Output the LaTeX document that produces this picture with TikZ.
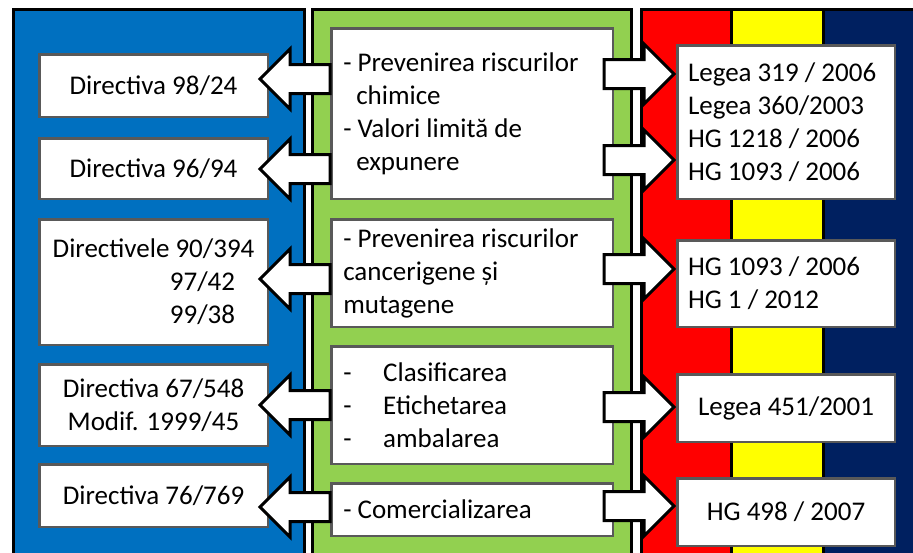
\documentclass[tikz,border=0pt]{standalone}
\usepackage{fontspec}
\setmainfont{Carlito}
\usetikzlibrary{calc}

\definecolor{dirblue}{HTML}{0070C0}
\definecolor{topicgreen}{HTML}{92D050}
\definecolor{flagred}{HTML}{FF0000}
\definecolor{flagyellow}{HTML}{FFFF00}
\definecolor{flagnavy}{HTML}{002060}
\definecolor{boxgrey}{HTML}{595959}

\tikzset{
  box/.style={draw=boxgrey, line width=2.5pt, fill=white, inner sep=0pt},
  dirbox/.style={box, minimum width=228.5pt, align=center},
  topicbox/.style={box, minimum width=281.5pt, text width=257.5pt, align=flush left},
  lawbox/.style={box, minimum width=217.5pt, align=center},
  blockleft/.style={draw=black, fill=white, line width=3pt, line join=miter,
    to path={let \p1=(\tikztostart), \p2=(\tikztotarget) in
      (\x1,{\y1+14.5pt}) -- ({\x2+30pt},{\y1+14.5pt}) -- ({\x2+30pt},{\y1+30pt})
      -- (\x2,\y1) -- ({\x2+30pt},{\y1-30pt}) -- ({\x2+30pt},{\y1-14.5pt})
      -- (\x1,{\y1-14.5pt}) -- cycle}},
  blockright/.style={draw=black, fill=white, line width=3pt, line join=miter,
    to path={let \p1=(\tikztostart), \p2=(\tikztotarget) in
      (\x1,{\y1+14.5pt}) -- ({\x2-30pt},{\y1+14.5pt}) -- ({\x2-30pt},{\y1+30pt})
      -- (\x2,\y1) -- ({\x2-30pt},{\y1-30pt}) -- ({\x2-30pt},{\y1-14.5pt})
      -- (\x1,{\y1-14.5pt}) -- cycle}}
}

\begin{document}
\begin{tikzpicture}[x=1pt,y=-1pt,font=\fontsize{27}{33}\selectfont]
\useasboundingbox (0,0) rectangle (913,552);

% panels
\draw[line width=3pt, fill=dirblue] (13,9) rectangle (304,570);
\draw[line width=3pt, fill=topicgreen] (312,9) rectangle (631.5,570);
\fill[flagred] (641.5,9.5) rectangle (731.5,570);
\fill[flagyellow] (731.5,9.5) rectangle (823.5,570);
\fill[flagnavy] (823.5,9.5) rectangle (920,570);
\draw[line width=3pt] (641.5,9.5) rectangle (920,570);
\draw[line width=3pt] (731.5,9.5) -- (731.5,570) (823.5,9.5) -- (823.5,570);

% directives
\node[dirbox, minimum height=62.5pt] (l1) at (153.5,85.5) {Directiva 98/24};
\node[dirbox, minimum height=60.5pt] (l2) at (153.5,168.5) {Directiva 96/94};
\node[dirbox, minimum height=125.5pt] (l3) at (153.5,282)
  {Directivele 90/394\\\hspace*{98pt}97/42\\\hspace*{98pt}99/38};
\node[dirbox, minimum height=81.5pt] (l4) at (153.5,405) {Directiva 67/548\\Modif. 1999/45};
\node[dirbox, minimum height=62.5pt] (l5) at (153.5,495.5) {Directiva 76/769};

% topics
\node[topicbox, minimum height=170.5pt] (m1) at (472,113.5)
  {- Prevenirea riscurilor\\\hspace*{13pt}chimice\\- Valori limită de\\\hspace*{13pt}expunere};
\node[topicbox, minimum height=107.5pt] (m2) at (472,273)
  {- Prevenirea riscurilor\\cancerigene și\\mutagene};
\node[topicbox, minimum height=117.5pt] (m3) at (472,405)
  {\makebox[40pt][l]{-}Clasificarea\\\makebox[40pt][l]{-}Etichetarea\\\makebox[40pt][l]{-}ambalarea};
\node[topicbox, minimum height=52.5pt] (m4) at (472,509.5) {- Comercializarea};

% laws
\node[lawbox, minimum height=153.5pt, text width=196pt, align=flush left] (r1) at (786,122)
  {Legea 319 / 2006\\Legea 360/2003\\HG 1218 / 2006\\HG 1093 / 2006};
\node[lawbox, minimum height=86.5pt, text width=196pt, align=flush left] (r2) at (786,283.5)
  {HG 1093 / 2006\\HG 1 / 2012};
\node[lawbox, minimum height=67.5pt] (r3) at (786,408) {Legea 451/2001};
\node[lawbox, minimum height=67.5pt] (r4) at (786,512) {HG 498 / 2007};

% arrows
\foreach \src/\dst/\yy in {m1/l1/79, m1/l2/169, m2/l3/279, m3/l4/405, m4/l5/507}
  \draw[blockleft] (\src.west |- 0,\yy) to ($(\dst.east |- 0,\yy)+(-9,0)$);
\foreach \src/\dst/\yy in {m1/r1/74, m1/r1/160, m2/r2/269, m3/r3/407, m4/r4/506}
  \draw[blockright] ($(\src.east |- 0,\yy)+(-10,0)$) to ($(\dst.west |- 0,\yy)+(-2,0)$);
\end{tikzpicture}
\end{document}
